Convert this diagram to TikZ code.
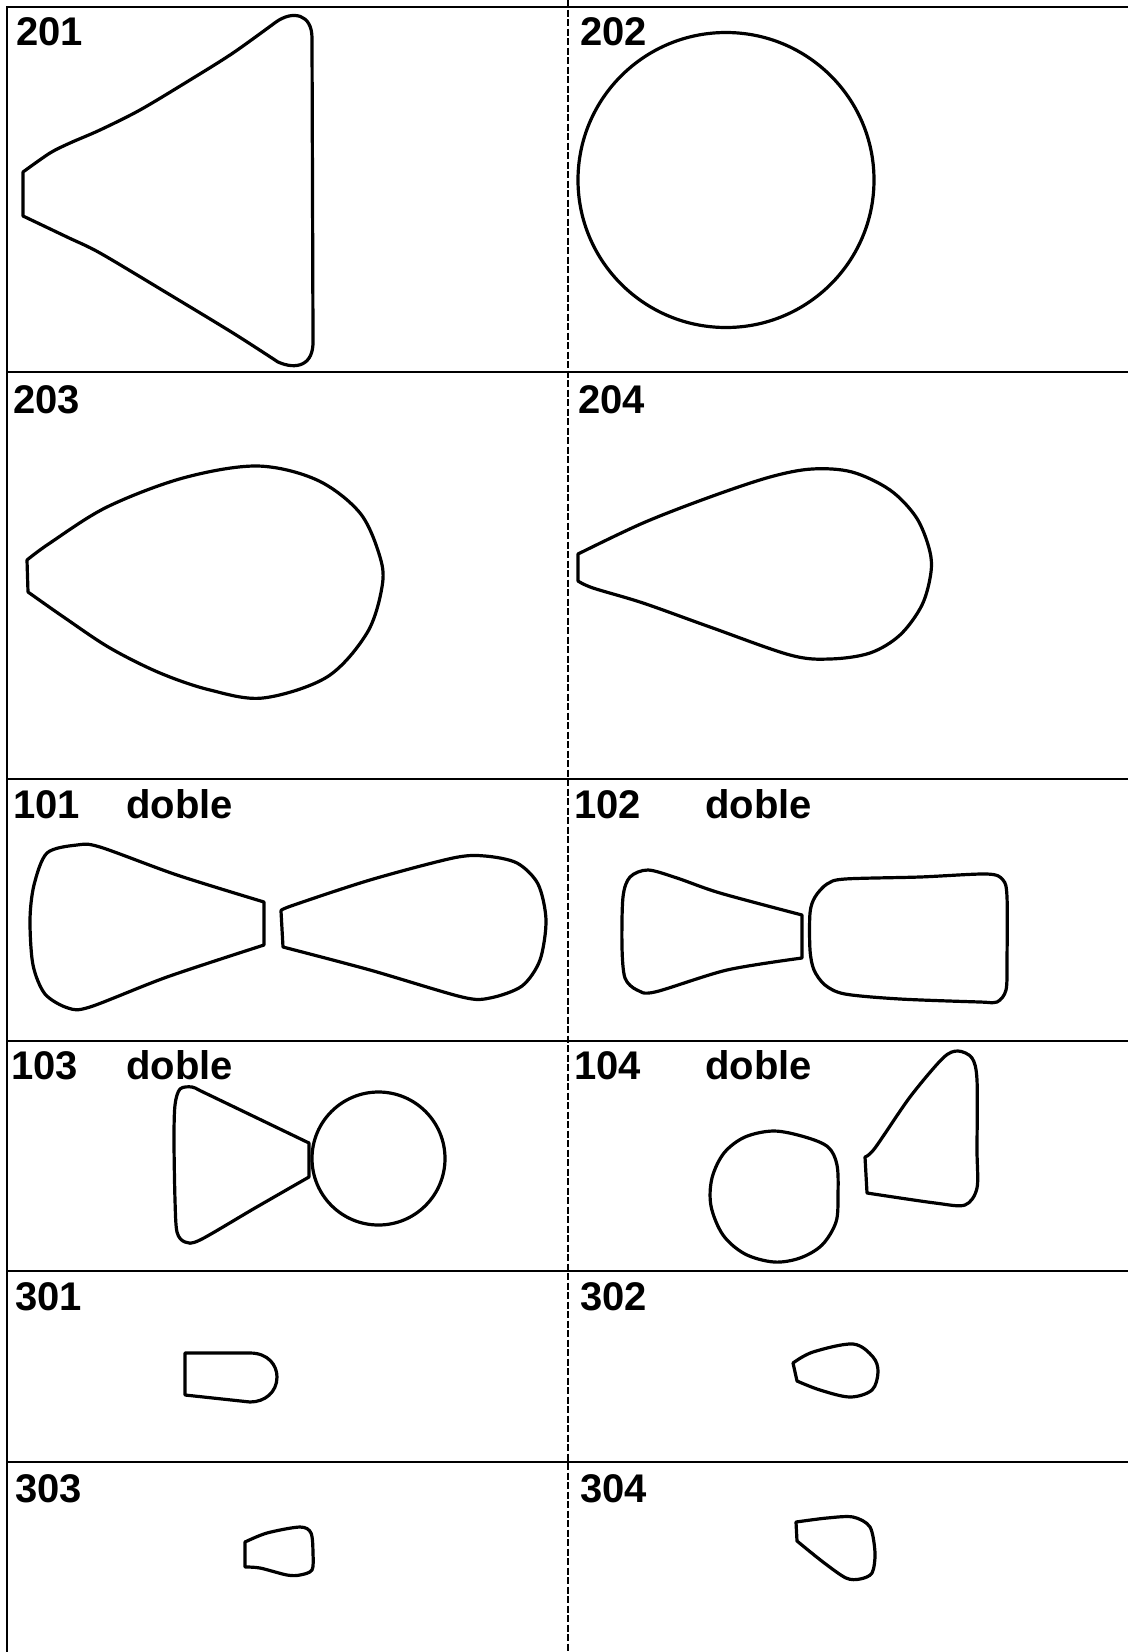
\documentclass[tikz,border=0pt]{standalone}
\usepackage{fontspec}
\setmainfont{Liberation Sans}
\begin{document}
\tikzset{
  lbl/.style={anchor=base west, inner sep=0pt, font=\fontsize{40}{48}\selectfont\bfseries},
  shp/.style={line width=3.2pt, line join=round, line cap=round},
  gridline/.style={line width=2pt},
  midline/.style={line width=1.2pt, dash pattern=on 7pt off 2.5pt}
}
\begin{tikzpicture}[x=1pt,y=-1pt]
\useasboundingbox[fill=white] (0,0) rectangle (1128,1652);
% grid
\draw[gridline] (6.5,1652) -- (6.5,6.5) -- (1128,6.5);
\foreach \yy in {372,779,1041,1271,1462} \draw[gridline] (6.5,\yy) -- (1128,\yy);
\draw[midline] (568,0) -- (568,1652);
% labels
\node[lbl] (t201) at (16,45) {201};
\node[lbl] (t202) at (580,45) {202};
\node[lbl] (t203) at (13,413) {203};
\node[lbl] (t204) at (578,413) {204};
\node[lbl] (t101) at (13,818) {101};
\node[lbl] (d101) at (126,818) {doble};
\node[lbl] (t102) at (574,818) {102};
\node[lbl] (d102) at (705,818) {doble};
\node[lbl] (t103) at (11,1079) {103};
\node[lbl] (d103) at (126,1079) {doble};
\node[lbl] (t104) at (574,1079) {104};
\node[lbl] (d104) at (705,1079) {doble};
\node[lbl] (t301) at (15,1310) {301};
\node[lbl] (t302) at (580,1310) {302};
\node[lbl] (t303) at (15,1502) {303};
\node[lbl] (t304) at (580,1502) {304};
% 201
\draw[shp] plot[smooth,tension=0.5] coordinates {(23,172) (50,153) (70,143) (100,130) (140,110) (190,80) (233,53) (276,22)}
  .. controls (293,10) and (312,14) .. (312,38) -- (313,340)
  .. controls (314,366) and (296,370) .. (278,362)
  -- plot[smooth,tension=0.5] coordinates {(278,362) (233,333) (167,293) (100,253) (67,237) (23,216)} -- cycle;
% 202
\draw[shp] (726,180) ellipse[x radius=148, y radius=147.5];
% 203
\draw[shp] plot[smooth,tension=0.55] coordinates {(27,560) (50,543) (107,507) (183,478) (257,466) (317,480) (360,513) (380,557) (382,587) (367,633) (327,677) (263,698) (210,690) (160,673) (110,648) (65,618) (28,592)} -- cycle;
% 204
\draw[shp] plot[smooth,tension=0.55] coordinates {(578,554) (643,523) (710,497) (770,477) (812,469) (852,472) (890,490) (916,517) (929,548) (931,572) (922,605) (900,635) (870,653) (830,659) (790,655) (710,627) (643,603) (593,588) (578,581)} -- cycle;
% 101
\draw[shp] plot[smooth,tension=0.5] coordinates {(264,945) (167,977) (90,1007) (68,1008) (45,994) (33,965) (30,920) (34,885) (47,853) (77,845) (100,847) (177,875) (264,902)} -- cycle;
\draw[shp] plot[smooth,tension=0.5] coordinates {(281,911) (291,906) (370,880) (453,858) (485,856) (517,863) (538,884) (546,920) (540,960) (522,986) (490,998) (462,997) (370,970) (283,947)} -- cycle;
% 102
\draw[shp] plot[smooth,tension=0.5] coordinates {(802,958) (727,970) (655,992) (637,990) (625,978) (622,947) (623,897) (630,877) (648,870) (677,878) (720,893) (802,915)} -- cycle;
\draw[shp] plot[smooth cycle,tension=0.5] coordinates {(810,913) (815,897) (827,884) (845,879) (920,877) (987,874) (1003,880) (1007,897) (1007,960) (1006,990) (997,1002) (980,1002) (900,999) (845,994) (825,985) (814,970) (810,950)};
% 103
\draw[shp] plot[smooth,tension=0.5] coordinates {(309,1143) (255,1117) (203,1092) (192,1087) (180,1089) (175,1105) (174,1140) (175,1200) (177,1232) (185,1242) (200,1240) (255,1208) (309,1177)} -- cycle;
\draw[shp] (378.5,1158.5) circle[radius=66.5];
% 104
\draw[shp] plot[smooth cycle,tension=0.55] coordinates {(774,1131) (805,1137) (828,1147) (837,1165) (838,1195) (836,1222) (822,1245) (800,1258) (774,1262) (745,1254) (723,1235) (711,1206) (712,1178) (724,1153) (745,1137)};
\draw[shp] plot[smooth,tension=0.5] coordinates {(865,1157) (875,1148) (910,1097) (943,1058) (958,1051) (972,1058) (977,1080) (977,1150) (977,1188) (965,1205) (935,1203) (867,1193)} -- cycle;
% 301
\draw[shp] (185,1395) -- (185,1353) -- (250,1353) .. controls (268,1353) and (277,1365) .. (277,1377) .. controls (277,1392) and (265,1402) .. (250,1402) -- cycle;
% 302
\draw[shp] plot[smooth,tension=0.55] coordinates {(793,1363) (813,1352) (853,1344) (873,1357) (878,1372) (872,1390) (850,1397) (820,1390) (797,1381)} -- cycle;
% 303
\draw[shp] plot[smooth,tension=0.5] coordinates {(245,1542) (267,1533) (300,1527) (311,1533) (313,1553) (312,1570) (300,1575) (287,1575) (260,1568) (245,1567)} -- cycle;
% 304
\draw[shp] plot[smooth,tension=0.5] coordinates {(796,1522) (827,1518) (853,1517) (870,1527) (875,1553) (872,1573) (860,1579) (846,1578) (823,1562) (797,1541)} -- cycle;
\end{tikzpicture}
\end{document}
